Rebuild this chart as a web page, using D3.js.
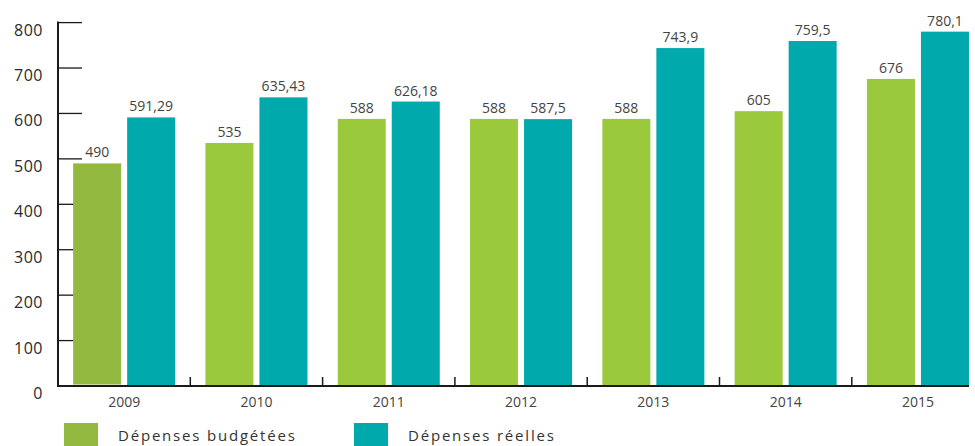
<!DOCTYPE html>
<html>
<head>
<meta charset="utf-8">
<script src="https://cdn.jsdelivr.net/npm/d3@7"></script>
<style>
    body { margin: 0; background: #fff; }
    svg { display: block; font-family: "Open Sans", Lato, sans-serif; }
</style>
</head>
<body>
<div id="chart-container"></div>
<script>
// Data
const years = ["2009", "2010", "2011", "2012", "2013", "2014", "2015"];
const budgetees = [490, 535, 588, 588, 588, 605, 676];
const reelles = [591.29, 635.43, 626.18, 587.5, 743.9, 759.5, 780.1];
const yTicks = [0, 100, 200, 300, 400, 500, 600, 700, 800];
const seriesNames = ["Dépenses budgétées", "Dépenses réelles"];

const W = 975, H = 446;
const margin = { top: 0, right: 0, bottom: 60, left: 58 };
const baseline = 386;

const svg = d3.select("#chart-container")
    .append("svg")
    .attr("width", W)
    .attr("height", H);

// scales
const x = d3.scaleBand()
    .domain(years)
    .range([margin.left, margin.left + 7 * 132.3]);

const y = d3.scaleLinear()
    .domain([0, 800])
    .range([baseline, 22.6]);

const fmt = v => String(v).replace(".", ",");

const green = "#9bc93c";
const teal = "#00a9ac";
const barW = 48, gap = 6;

// y axis ticks (pointing into the plot)
const yAxis = svg.append("g");
yAxis.selectAll("line.tick")
    .data(yTicks.filter(d => d > 0))
    .join("line")
    .attr("x1", margin.left)
    .attr("x2", margin.left + 24)
    .attr("y1", d => y(d))
    .attr("y2", d => y(d))
    .attr("stroke", "#1a1a1a")
    .attr("stroke-width", 1.3);

yAxis.selectAll("text")
    .data(yTicks)
    .join("text")
    .attr("x", 43)
    .attr("y", d => y(d) + 13)
    .attr("text-anchor", "end")
    .style("font-size", "16px")
    .style("letter-spacing", "0.5px")
    .style("fill", "#2b2b2b")
    .text(d => d);

// bars
const groups = svg.append("g")
    .selectAll("g")
    .data(years)
    .join("g")
    .attr("transform", d => `translate(${x(d) + x.bandwidth() / 2},0)`);

groups.append("rect")
    .attr("x", -gap / 2 - barW)
    .attr("width", barW)
    .attr("y", (d, i) => y(budgetees[i]))
    .attr("height", (d, i) => y(0) - y(budgetees[i]) - (i === 0 ? 1.5 : 0))
    .attr("fill", (d, i) => i === 0 ? "#93b83f" : green);

groups.append("rect")
    .attr("x", gap / 2)
    .attr("width", barW)
    .attr("y", (d, i) => y(reelles[i]))
    .attr("height", (d, i) => y(0) - y(reelles[i]))
    .attr("fill", teal);

// value labels
groups.append("text")
    .attr("x", -gap / 2 - barW / 2)
    .attr("y", (d, i) => y(budgetees[i]) - 6)
    .attr("text-anchor", "middle")
    .style("font-size", "14px")
    .style("fill", "#444")
    .text((d, i) => fmt(budgetees[i]));

groups.append("text")
    .attr("x", gap / 2 + barW / 2)
    .attr("y", (d, i) => y(reelles[i]) - 6)
    .attr("text-anchor", "middle")
    .style("font-size", "14px")
    .style("fill", "#444")
    .text((d, i) => fmt(reelles[i]));

// axis lines
svg.append("line")
    .attr("x1", margin.left).attr("x2", margin.left)
    .attr("y1", y(800) - 1).attr("y2", baseline + 1)
    .attr("stroke", "#1a1a1a")
    .attr("stroke-width", 2);

svg.append("line")
    .attr("x1", margin.left - 1).attr("x2", 969)
    .attr("y1", baseline).attr("y2", baseline)
    .attr("stroke", "#1a1a1a")
    .attr("stroke-width", 2);

// category separator ticks
svg.append("g")
    .selectAll("line")
    .data(years.slice(1))
    .join("line")
    .attr("x1", d => x(d))
    .attr("x2", d => x(d))
    .attr("y1", baseline - 9)
    .attr("y2", baseline)
    .attr("stroke", "#1a1a1a")
    .attr("stroke-width", 1.5);

// category labels
svg.append("g")
    .selectAll("text")
    .data(years)
    .join("text")
    .attr("x", d => x(d) + x.bandwidth() / 2)
    .attr("y", 407)
    .attr("text-anchor", "middle")
    .style("font-size", "14px")
    .style("fill", "#444")
    .text(d => d);

// legend
const legend = svg.append("g");
const legendX = [64, 354];
const legendColors = ["#93b83f", teal];
seriesNames.forEach((name, i) => {
    legend.append("rect")
        .attr("x", legendX[i])
        .attr("y", 423)
        .attr("width", 34)
        .attr("height", 30)
        .attr("fill", legendColors[i]);
    legend.append("text")
        .attr("x", legendX[i] + 54)
        .attr("y", 441)
        .style("font-size", "15px")
        .style("letter-spacing", "1.8px")
        .style("fill", "#333")
        .text(name);
});
</script>
</body>
</html>
